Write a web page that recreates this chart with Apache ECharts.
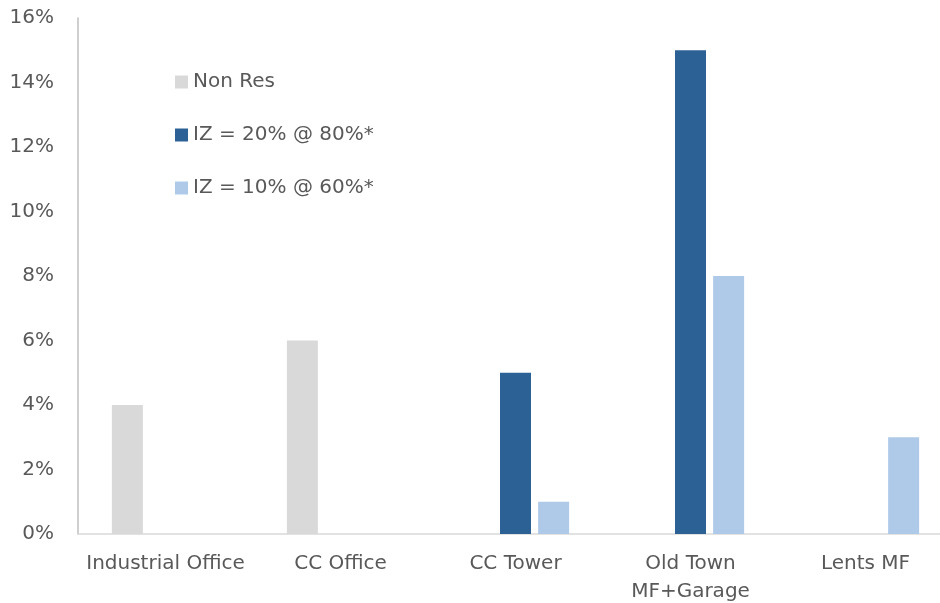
<!DOCTYPE html>
<html>
<head>
<meta charset="utf-8">
<title>Bar chart</title>
<script src="https://cdn.jsdelivr.net/npm/echarts@6/dist/echarts.min.js"></script>
<style>
  html, body { margin: 0; padding: 0; background: #fff; overflow: hidden; }
  /* the source picture is cut off on the right, so the canvas is a bit wider than the window */
  #chart { width: 953px; height: 603px; }
</style>
</head>
<body>
<div id="chart"></div>
<script>
// categories and series values (percent)
var categories = ['Industrial Office', 'CC Office', 'CC Tower', 'Old Town\nMF+Garage', 'Lents MF'];
var nonRes = [4, 6, null, null, null];
var iz20 = [null, null, 5, 15, null];
var iz10 = [null, null, 1, 8, 3];
var seriesNames = ['Non Res', 'IZ = 20% @ 80%*', 'IZ = 10% @ 60%*'];
var yTicks = { min: 0, max: 16, interval: 2 };

var textColor = '#595959';
var fontFamily = '"DejaVu Sans", sans-serif';

var chart = echarts.init(document.getElementById('chart'));

var makeSeries = function (name, data, color) {
    return {
        name: name,
        type: 'bar',
        data: data,
        barWidth: 31,
        barGap: '23%',
        itemStyle: { color: color },
        emphasis: { disabled: true }
    };
};

chart.setOption({
    animation: false,
    textStyle: { fontFamily: fontFamily },
    grid: { left: 78, right: 0, top: 18, bottom: 69, containLabel: false, outerBoundsMode: 'none' },
    legend: {
        orient: 'vertical',
        left: 170,
        top: 67,
        itemWidth: 13,
        itemHeight: 13,
        itemGap: 33,
        icon: 'rect',
        textStyle: { color: textColor, fontSize: 20, lineHeight: 20, fontFamily: fontFamily },
        data: seriesNames
    },
    xAxis: {
        type: 'category',
        data: categories,
        axisLine: { lineStyle: { color: '#d9d9d9', width: 1.5 } },
        axisTick: { show: false },
        axisLabel: { color: textColor, fontSize: 20, lineHeight: 28, margin: 16, interval: 0 },
        splitLine: { show: false }
    },
    yAxis: {
        type: 'value',
        min: yTicks.min,
        max: yTicks.max,
        interval: yTicks.interval,
        axisLine: { show: true, lineStyle: { color: '#bfbfbf', width: 1.5 } },
        axisTick: { show: false },
        splitLine: { show: false },
        axisLabel: { color: textColor, fontSize: 20, margin: 24, formatter: '{value}%' }
    },
    series: [
        makeSeries(seriesNames[0], nonRes, '#d9d9d9'),
        makeSeries(seriesNames[1], iz20, '#2c6196'),
        makeSeries(seriesNames[2], iz10, '#aecae8')
    ]
});
</script>
</body>
</html>
